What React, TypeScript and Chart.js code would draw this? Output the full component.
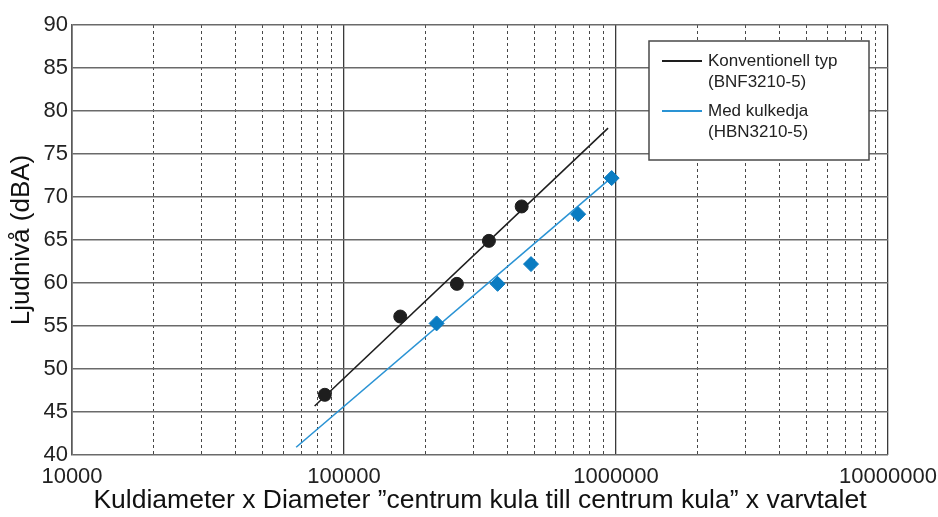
import React, { useEffect, useRef } from 'react';
import { Chart, registerables } from 'chart.js';

Chart.register(...registerables);

// ---- data ----
const conventionalX = [85000, 161000, 260000, 341000, 450000];
const conventionalY = [47.0, 56.1, 59.9, 64.9, 68.9];
const conventionalFitX = [78000, 935000];
const conventionalFitY = [45.7, 78.0];

const chainX = [219000, 367000, 487000, 726000, 964000];
const chainY = [55.3, 59.9, 62.2, 68.0, 72.2];
const chainFitX = [66700, 950000];
const chainFitY = [40.9, 72.1];

const legendLines = [
  ['Konventionell typ', '(BNF3210-5)'],
  ['Med kulkedja', '(HBN3210-5)'],
];
const yTitle = 'Ljudnivå (dBA)';
const xTitle = 'Kuldiameter x Diameter \u201dcentrum kula till centrum kula\u201d x varvtalet';

const xMin = 10000;
const xMax = 10000000;
const yMin = 40;
const yMax = 90;
const yStep = 5;
const decadeMultipliers = [1, 2, 3, 4, 5, 6, 7, 8, 9];

const BLACK = '#1e1e1e';
const BLUE_LINE = '#2a93d4';
const BLUE_MARK = '#0a7cc2';
const FONT = '"Liberation Sans", Arial, sans-serif';

function isDecade(v: number) {
  const l = Math.log10(v);
  return Math.abs(l - Math.round(l)) < 1e-9;
}

function gridTickValues(): number[] {
  const out: number[] = [];
  for (let d = xMin; d < xMax; d *= 10) {
    for (const m of decadeMultipliers) out.push(d * m);
  }
  out.push(xMax);
  return out;
}

function pts(xs: number[], ys: number[]) {
  return xs.map((x, i) => ({ x, y: ys[i] }));
}

const legendPlugin = {
  id: 'customLegend',
  afterDraw(chart: any) {
    const { ctx, chartArea } = chart;
    const right = chartArea.right - 19;
    const left = right - 220;
    const top = chartArea.top + 16;
    const bottom = top + 119;
    ctx.save();
    ctx.fillStyle = '#ffffff';
    ctx.fillRect(left, top, right - left, bottom - top);
    ctx.strokeStyle = '#4a4a4a';
    ctx.lineWidth = 1.5;
    ctx.strokeRect(left, top, right - left, bottom - top);
    const colors = [BLACK, BLUE_LINE];
    const groupTops = [top + 20, top + 70];
    ctx.font = `17px ${FONT}`;
    ctx.textBaseline = 'middle';
    ctx.textAlign = 'left';
    legendLines.forEach((lines, i) => {
      const y0 = groupTops[i];
      ctx.strokeStyle = colors[i];
      ctx.lineWidth = 1.8;
      ctx.beginPath();
      ctx.moveTo(left + 13, y0);
      ctx.lineTo(left + 53, y0);
      ctx.stroke();
      ctx.fillStyle = '#222';
      lines.forEach((t, j) => {
        ctx.fillText(t, left + 59, y0 + j * 21);
      });
    });
    ctx.restore();
  },
};

export default function App() {
  const ref = useRef<HTMLCanvasElement | null>(null);

  useEffect(() => {
    if (!ref.current) return;
    const ticksValues = gridTickValues();
    const setTicks = (scale: any) => {
      scale.ticks = ticksValues.map((v) => ({ value: v, major: isDecade(v) }));
    };
    const chart = new Chart(ref.current, {
      type: 'scatter',
      data: {
        datasets: [
          {
            label: 'conv-points',
            data: pts(conventionalX, conventionalY),
            backgroundColor: BLACK,
            borderColor: BLACK,
            pointRadius: 6.5,
            pointStyle: 'circle',
            showLine: false,
          },
          {
            label: 'chain-points',
            data: pts(chainX, chainY),
            backgroundColor: BLUE_MARK,
            borderColor: BLUE_MARK,
            pointRadius: 7.5,
            pointStyle: 'rectRot',
            showLine: false,
          },
          {
            label: 'conv-fit',
            data: pts(conventionalFitX, conventionalFitY),
            borderColor: BLACK,
            borderWidth: 1.6,
            pointRadius: 0,
            showLine: true,
          },
          {
            label: 'chain-fit',
            data: pts(chainFitX, chainFitY),
            borderColor: BLUE_LINE,
            borderWidth: 1.6,
            pointRadius: 0,
            showLine: true,
          },
        ],
      },
      options: {
        responsive: false,
        animation: false,
        events: [],
        layout: { padding: { top: 25, right: 50, left: 0, bottom: 0 } },
        plugins: {
          legend: { display: false },
          tooltip: { enabled: false },
        },
        scales: {
          x: {
            type: 'logarithmic',
            position: 'bottom',
            min: xMin,
            max: xMax,
            afterBuildTicks: setTicks,
            afterFit: (s: any) => {
              s.height = 62;
              s.paddingLeft = 0;
              s.paddingRight = 0;
            },
            ticks: {
              autoSkip: false,
              maxRotation: 0,
              minRotation: 0,
              padding: 9,
              color: '#222',
              font: { family: FONT, size: 22 },
              callback: (v: any) => (isDecade(Number(v)) ? String(v) : ''),
            },
            grid: {
              drawTicks: false,
              color: (c: any) =>
                c.tick && isDecade(c.tick.value) ? '#3a3a3a' : 'rgba(0,0,0,0)',
              lineWidth: 1.3,
            },
            border: { display: false },
            title: {
              display: true,
              text: xTitle,
              color: '#111',
              font: { family: FONT, size: 26.5 },
              padding: { top: 0, bottom: 0 },
            },
          },
          x2: {
            type: 'logarithmic',
            position: 'bottom',
            min: xMin,
            max: xMax,
            afterBuildTicks: setTicks,
            afterFit: (s: any) => {
              s.height = 0;
              s.paddingLeft = 0;
              s.paddingRight = 0;
            },
            ticks: { display: false },
            grid: {
              drawTicks: false,
              color: (c: any) =>
                c.tick && !isDecade(c.tick.value) ? '#474747' : 'rgba(0,0,0,0)',
              lineWidth: 1,
            },
            border: { display: false, dash: [3, 3] },
          },
          y: {
            min: yMin,
            max: yMax,
            afterFit: (s: any) => {
              s.width = 72;
            },
            ticks: {
              stepSize: yStep,
              padding: 4,
              color: '#222',
              font: { family: FONT, size: 22 },
            },
            grid: {
              drawTicks: false,
              color: '#6a6a6a',
              lineWidth: 1.6,
            },
            border: { display: true, color: '#5a5a5a', width: 1.6 },
            title: {
              display: true,
              text: yTitle,
              color: '#111',
              font: { family: FONT, size: 26 },
              padding: { top: 6, bottom: 0 },
            },
          },
        },
      },
      plugins: [legendPlugin],
    } as any);
    return () => chart.destroy();
  }, []);

  return (
    <div style={{ position: 'fixed', left: 0, top: 0, width: 938, height: 517, background: '#fff' }}>
      <canvas ref={ref} width={938} height={517} />
    </div>
  );
}
